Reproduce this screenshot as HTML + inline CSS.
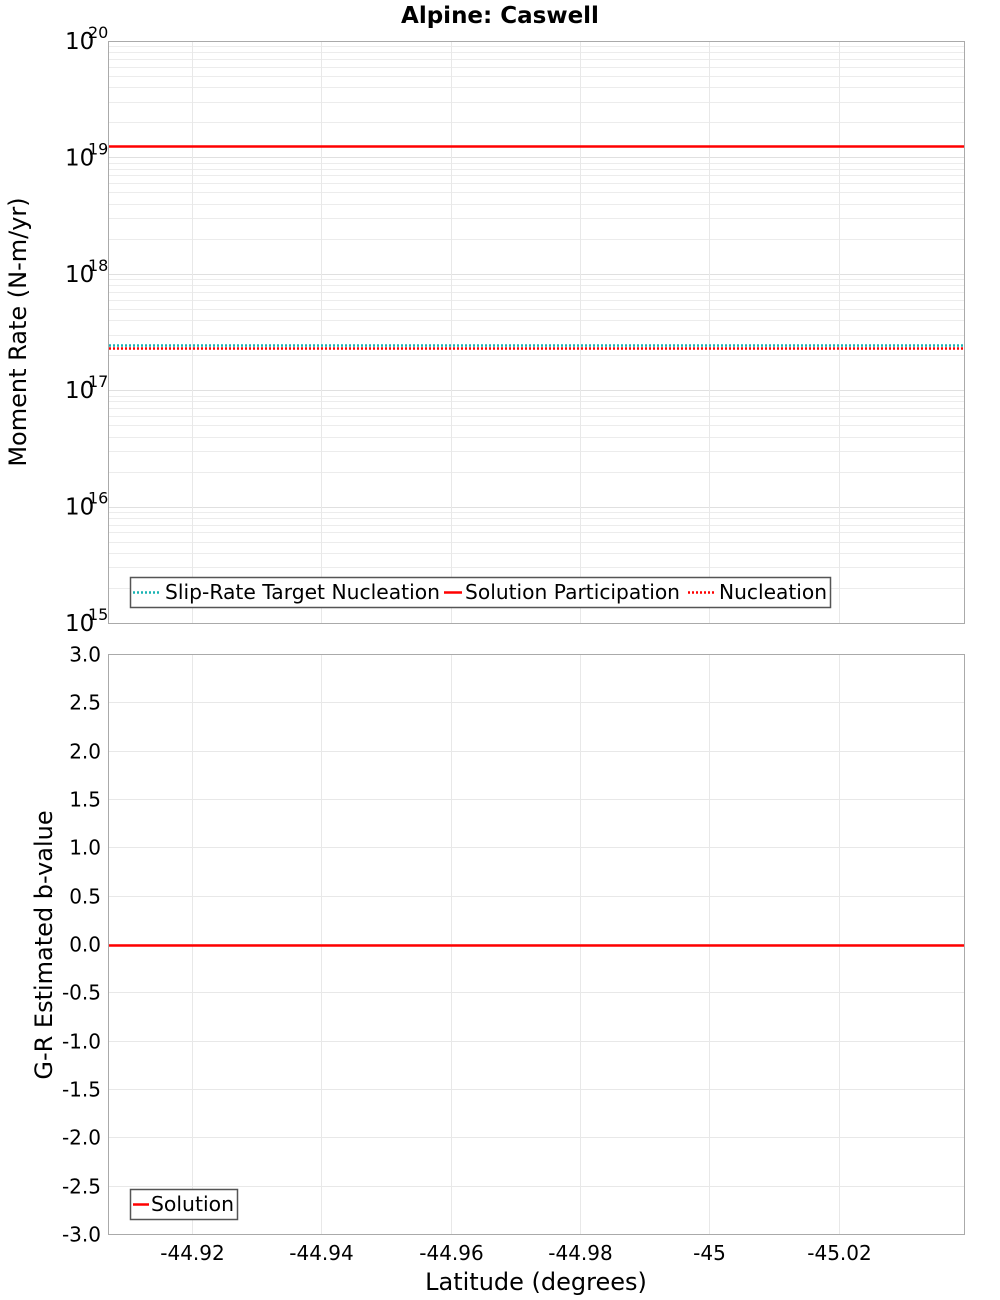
<!DOCTYPE html>
<html><head><meta charset="utf-8"><style>
html,body{margin:0;padding:0;background:#fff;}
svg{display:block;font-family:"DejaVu Sans","Liberation Sans",sans-serif;}
</style></head><body>
<svg id="s" width="1000" height="1300" xmlns="http://www.w3.org/2000/svg">
<rect width="1000" height="1300" fill="#fff"/>
<g id="grid"></g>
<text x="500" y="23" font-size="23" font-weight="bold" text-anchor="middle">Alpine: Caswell</text>
<rect x="108.5" y="41.5" width="856" height="582" fill="none" stroke="#aaa"/>
<rect x="108.5" y="654.5" width="856" height="580" fill="none" stroke="#aaa"/>
<line x1="109" y1="146.5" x2="964" y2="146.5" stroke="#f00" stroke-width="2.5"/>
<line x1="109" y1="345.5" x2="964" y2="345.5" stroke="#19b3b3" stroke-width="2.5" stroke-dasharray="2,2"/>
<line x1="109" y1="348.5" x2="964" y2="348.5" stroke="#f00" stroke-width="2.5" stroke-dasharray="2,2"/>
<line x1="109" y1="945.5" x2="964" y2="945.5" stroke="#f00" stroke-width="2.5"/>
<rect x="130.5" y="577.5" width="700" height="30" fill="#fff" stroke="#555" stroke-width="1.5"/>
<line x1="133" y1="592.5" x2="161" y2="592.5" stroke="#19b3b3" stroke-width="2.5" stroke-dasharray="2,2"/>
<text x="165" y="599" font-size="20" textLength="275" lengthAdjust="spacingAndGlyphs">Slip-Rate Target Nucleation</text>
<line x1="444" y1="592.5" x2="462" y2="592.5" stroke="#f00" stroke-width="2.5"/>
<text x="465" y="599" font-size="20" textLength="215" lengthAdjust="spacingAndGlyphs">Solution Participation</text>
<line x1="688" y1="592.5" x2="716" y2="592.5" stroke="#f00" stroke-width="2.5" stroke-dasharray="2,2"/>
<text x="719" y="599" font-size="20" textLength="108" lengthAdjust="spacingAndGlyphs">Nucleation</text>
<rect x="130.5" y="1189.5" width="107" height="30" fill="#fff" stroke="#555" stroke-width="1.5"/>
<line x1="133" y1="1204.5" x2="149" y2="1204.5" stroke="#f00" stroke-width="2.5"/>
<text x="151" y="1211" font-size="20" textLength="83" lengthAdjust="spacingAndGlyphs">Solution</text>
<g id="labels"></g>
<text transform="translate(26,332) rotate(-90)" font-size="24" text-anchor="middle">Moment Rate (N-m/yr)</text>
<text transform="translate(52,945) rotate(-90)" font-size="24" text-anchor="middle">G-R Estimated b-value</text>
<text x="536" y="1290" font-size="24" text-anchor="middle">Latitude (degrees)</text>
</svg>
<script>
var ns="http://www.w3.org/2000/svg",g=document.getElementById("grid"),L=document.getElementById("labels");
function ln(x1,y1,x2,y2,c){var e=document.createElementNS(ns,"line");e.setAttribute("x1",x1);e.setAttribute("y1",y1);e.setAttribute("x2",x2);e.setAttribute("y2",y2);e.setAttribute("stroke",c||"#e8e8e8");e.setAttribute("stroke-width","1");g.appendChild(e);}
function tx(x,y,s,fs,anc){var e=document.createElementNS(ns,"text");e.setAttribute("x",x);e.setAttribute("y",y);e.setAttribute("font-size",fs);if(anc)e.setAttribute("text-anchor",anc);e.textContent=s;L.appendChild(e);}
var D=116.4;
for(var k=15;k<20;k++){var b=41+(20-k)*D;for(var m=1;m<10;m++){var y=Math.round(b-Math.log10(m)*D)+0.5;ln(109,y,964,y,m==1?"#e0e0e0":"#ececec");}}
for(var k=15;k<=20;k++){var y=41+(20-k)*D;tx(65,y+8,"10",23);tx(88,y-3,String(k),16);}
var xs=["-44.92","-44.94","-44.96","-44.98","-45","-45.02"];
for(var i=0;i<6;i++){var x=Math.round(192+i*129.3)+0.5;ln(x,42,x,623);ln(x,655,x,1234);tx(x,1260,xs[i],20,"middle");}
for(var i=0;i<=12;i++){var v=3-i*0.5;var y=Math.round(654+i*48.33)+0.5;if(i>0&&i<12)ln(109,y,964,y);tx(101,y+7,v.toFixed(1),20,"end");}
</script>
</body></html>
